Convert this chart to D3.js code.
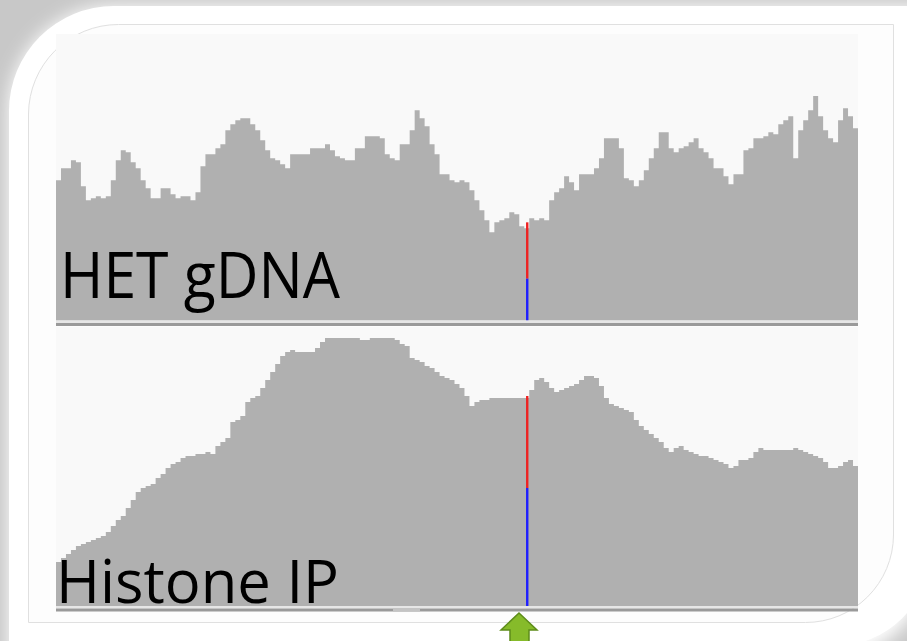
<!DOCTYPE html>
<html>
<head>
<meta charset="utf-8">
<script src="https://cdn.jsdelivr.net/npm/d3@7"></script>
<style>
  html, body { margin: 0; padding: 0; background: #cacaca; }
  svg { display: block; }
</style>
</head>
<body>
<svg id="chart" width="907" height="641"></svg>
<script>
// Read depth per bin (one bin = fixed genomic window), left to right across the locus
const gdnaDepth = [
  70,76,76,80,79,67,60,61,62,61,
  62,70,80,85,84,79,76,70,66,61,
  61,66,66,63,61,62,62,60,64,77,
  83,83,86,88,95,98,100,101,101,98,
  95,90,85,81,80,78,76,83,83,83,
  83,86,86,86,88,85,82,81,80,80,
  86,86,92,92,92,91,83,81,80,88,
  88,95,105,101,97,88,83,73,73,70,
  69,70,69,65,60,55,50,44,49,50,
  51,54,53,47,46,51,50,51,50,60,
  64,66,72,69,65,73,73,73,76,81,
  91,91,91,86,71,70,67,70,75,81,
  86,94,94,86,84,86,87,89,91,86,
  84,81,76,76,72,68,73,73,85,86,
  91,91,92,94,93,98,100,102,81,95,
  100,105,112,102,95,91,89,100,106,102,
  96
];
const ipDepth = [
  22,24,26,28,30,31,32,33,34,35,
  37,40,43,45,49,53,57,59,60,61,
  64,66,69,71,72,74,75,75,76,76,
  77,76,80,82,84,92,93,95,102,104,
  105,109,113,117,121,125,127,128,127,127,
  127,127,129,132,134,134,134,134,134,134,
  134,133,133,134,134,134,134,134,133,131,
  130,124,123,122,120,119,117,115,114,113,
  111,109,105,100,102,103,103,104,104,104,
  104,104,104,104,104,108,113,114,112,109,
  107,108,109,110,111,113,115,115,114,110,
  104,101,100,99,98,97,93,90,88,86,
  84,82,79,77,79,80,78,77,76,75,
  75,74,73,72,71,69,70,73,73,74,
  77,79,78,78,78,78,78,78,79,78,
  77,76,75,74,72,69,69,70,72,73,
  70
];

// Track names and autoscale maxima
const trackNames = ["HET gDNA", "Histone IP"];
const trackMax = [143, 139.5];

// Variant site (bin coordinate) and allele read counts per track: [C, T]
const snpPos = 94.6;
const alleles = ["C", "T"];
const alleleColors = ["#1f1fff", "#ee2222"];
const gdnaAlleles = [21, 28];
const ipAlleles = [59, 46];

const svg = d3.select("#chart");
const W = 907, H = 641;

const defs = svg.append("defs");
defs.append("filter").attr("id", "halo")
  .attr("x", "-20%").attr("y", "-20%").attr("width", "140%").attr("height", "140%")
  .append("feGaussianBlur").attr("stdDeviation", 9);

// Card outline: rounded top-left and bottom-right corners
const cardPath = "M9,111 A105,105 0 0 1 114,6 H930 V541 A105,105 0 0 1 825,660 H9 Z";
svg.append("rect").attr("width", W).attr("height", H).attr("fill", "#c8c8c8");
svg.append("path").attr("d", cardPath).attr("fill", "#ffffff").attr("filter", "url(#halo)");
svg.append("path").attr("d", "M9,111 A105,105 0 0 1 114,6 H930 V551 A95,95 0 0 1 835,646 H9 Z")
  .attr("fill", "#ffffff");

// Inner frame line
svg.append("path")
  .attr("d", "M28.5,114 A90,90 0 0 1 118.5,24.5 H893.5 V535 A88,88 0 0 1 805.5,622.5 H28.5 Z")
  .attr("fill", "#fdfdfd").attr("stroke", "#e0e0e0").attr("stroke-width", 1);

const x = d3.scaleLinear().domain([0, gdnaDepth.length]).range([56, 858]);

const tracks = [
  { name: trackNames[0], data: gdnaDepth, max: trackMax[0], top: 34, base: 320.5,
    alle: gdnaAlleles, label: { x: 60, y: 298, size: 64, len: 280 } },
  { name: trackNames[1], data: ipDepth, max: trackMax[1], top: 327, base: 606,
    alle: ipAlleles, label: { x: 56, y: 603, size: 60, len: 283 } }
];

tracks.forEach(t => {
  const y = d3.scaleLinear().domain([0, t.max]).range([t.base, t.top]);
  const g = svg.append("g");

  g.append("rect").attr("x", x(0)).attr("y", t.top).attr("width", x.range()[1] - x(0))
    .attr("height", t.base - t.top).attr("fill", "#f9f9f9");

  // Coverage as stepped bins; closing point carries the last bin to the right edge
  const pts = t.data.map((v, i) => [i, v]).concat([[t.data.length, t.data[t.data.length - 1]]]);
  const area = d3.area()
    .x(d => x(d[0]))
    .y0(y(0))
    .y1(d => y(d[1]))
    .curve(d3.curveStepAfter);
  g.append("path").datum(pts).attr("d", area).attr("fill", "#b0b0b0");

  // Allele bar at the variant, stacked C then T
  const stack = [];
  let acc = 0;
  t.alle.forEach((c, k) => { stack.push({ k, y0: acc, y1: acc + c }); acc += c; });
  g.selectAll("rect.allele").data(stack).join("rect")
    .attr("class", "allele")
    .attr("x", x(snpPos) - 1.2).attr("width", 2.4)
    .attr("y", d => y(d.y1)).attr("height", d => y(d.y0) - y(d.y1))
    .attr("fill", d => alleleColors[d.k]);

  // Track name
  g.append("text")
    .attr("x", t.label.x).attr("y", t.label.y)
    .attr("font-family", "'Open Sans', sans-serif")
    .attr("font-size", t.label.size)
    .attr("textLength", t.label.len).attr("lengthAdjust", "spacingAndGlyphs")
    .attr("fill", "#000")
    .text(t.name);

  // Track bottom rule
  g.append("rect").attr("x", x(0)).attr("y", t.base).attr("width", x.range()[1] - x(0))
    .attr("height", 2.5).attr("fill", "#e6e6e6");
  g.append("rect").attr("x", x(0)).attr("y", t.base + 2.5).attr("width", x.range()[1] - x(0))
    .attr("height", 3).attr("fill", "#9a9a9a");
});

// Scroll thumb on the lower rule
svg.append("rect").attr("x", 393).attr("y", 608.5).attr("width", 27).attr("height", 3)
  .attr("fill", "#c4c4c4");

// Marker arrow under the variant
svg.append("path")
  .attr("d", "M519,613 L537,630 L529,630 L529,648 L510,648 L510,630 L501,630 Z")
  .attr("fill", "#86bb2a").attr("stroke", "#5d8c1a").attr("stroke-width", 1.5)
  .attr("stroke-linejoin", "miter");
</script>
</body>
</html>
